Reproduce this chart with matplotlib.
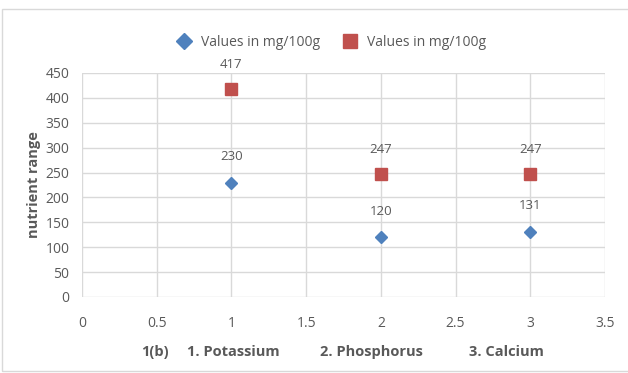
import matplotlib
matplotlib.use("Agg")
import matplotlib.pyplot as plt
from matplotlib.patches import Rectangle

plt.rcParams['font.family'] = ['Open Sans', 'DejaVu Sans']

x_pos = [1, 2, 3]
series_blue = [230, 120, 131]
series_red = [417, 247, 247]
legend_label = "Values in mg/100g"
bottom_labels = ["1(b)", "1. Potassium", "2. Phosphorus", "3. Calcium"]
bottom_label_x = [155, 233, 371, 506]

grey = '#595959'

fig = plt.figure(figsize=(6.28, 3.73), dpi=100)
ax = fig.add_axes([82/628, 1-297/373, (605-82)/628, (297-73)/373])

ax.plot(x_pos, series_blue, linestyle='none', marker='D', color='#4F81BD',
        markersize=6.5, label=legend_label, zorder=3)
ax.plot(x_pos, series_red, linestyle='none', marker='s', color='#C0504D',
        markersize=8.5, label=legend_label, zorder=3)

for xv, yv in zip(x_pos, series_blue):
    ax.annotate(str(yv), (xv, yv), xytext=(0, 14), textcoords='offset points',
                ha='center', va='bottom', fontsize=9.5, color=grey)
for xv, yv in zip(x_pos, series_red):
    ax.annotate(str(yv), (xv, yv), xytext=(0, 13), textcoords='offset points',
                ha='center', va='bottom', fontsize=9.5, color=grey)

ax.set_xlim(0, 3.5)
ax.set_ylim(0, 450)
ax.set_xticks([0, 0.5, 1, 1.5, 2, 2.5, 3, 3.5])
ax.set_xticklabels(['0', '0.5', '1', '1.5', '2', '2.5', '3', '3.5'])
ax.set_yticks(range(0, 451, 50))
ax.grid(True, color='#D9D9D9', linewidth=1)
ax.set_axisbelow(True)
for s in ax.spines.values():
    s.set_visible(False)
ax.tick_params(length=0, labelsize=10, colors=grey)
ax.tick_params(axis='x', pad=14)
ax.tick_params(axis='y', pad=9)
ax.set_ylabel('nutrient range', fontsize=10.5, fontweight='bold', color=grey, labelpad=3)

for lbl, xp in zip(bottom_labels, bottom_label_x):
    fig.text(xp/628, 1-352/373, lbl, ha='center', va='center',
             fontsize=10.5, fontweight='bold', color=grey)

fig.legend(loc='center', bbox_to_anchor=(328/628, 1-42/373), ncol=2, frameon=False,
           fontsize=10, labelcolor=grey, handletextpad=0.2, columnspacing=1.2,
           markerscale=1.2)

fig.patches.append(Rectangle((2/628, 0.005), 1.2, 1-9/373-0.005, transform=fig.transFigure,
                             fill=False, edgecolor='#D9D9D9', linewidth=1))

fig.savefig('out.png', dpi=100)
